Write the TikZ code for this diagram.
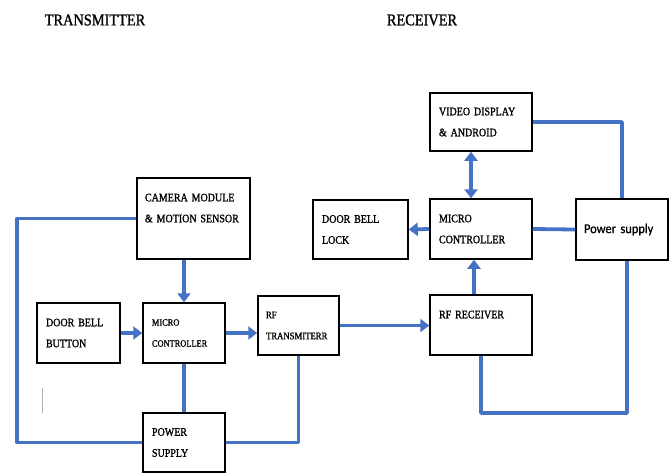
\documentclass[tikz,border=0pt]{standalone}
\usepackage{fontspec}
\usetikzlibrary{arrows.meta}
\setmainfont{Liberation Serif}
\newfontfamily\boxfont[FakeStretch=0.87,FakeBold=1.2]{Liberation Serif}
\newfontfamily\psfont[FakeStretch=0.92,FakeBold=0.8]{Carlito}
\definecolor{wireblue}{RGB}{68,114,196}

\begin{document}
\begin{tikzpicture}[x=1pt,y=-1pt,
  blk/.style={draw,line width=1.5pt,inner xsep=8pt,align=left,font=\boxfont\fontsize{11.5}{21}\selectfont},
  wire/.style={draw=wireblue,line width=3.8pt,line join=round},
  arr/.style={wire,-{Triangle[width=13pt,length=9pt]}},
  dblarr/.style={wire,{Triangle[width=13pt,length=9pt]}-{Triangle[width=13pt,length=9pt]}}]
 \useasboundingbox (0,0) rectangle (670,475);
 % titles
 \node (ttx) at (95,20) {\boxfont\fontsize{16.5}{18}\selectfont TRANSMITTER};
 \node (trx) at (422,20) {\boxfont\fontsize{16.5}{18}\selectfont RECEIVER};
 % transmitter side
 \node[blk,minimum width=113pt,minimum height=81pt,text width=97pt] (cam) at (193.5,218.5) {CAMERA MODULE\\\& MOTION SENSOR\\\mbox{}};
 \node[blk,minimum width=81pt,minimum height=60pt,text width=65pt,inner xsep=9pt] (bell) at (78.5,333) {DOOR BELL\\BUTTON};
 \node[blk,minimum width=82pt,minimum height=60pt,text width=64pt,inner xsep=9pt,font=\boxfont\fontsize{9.6}{21}\selectfont] (mctx) at (184,333) {MICRO\\CONTROLLER};
 \node[blk,minimum width=81pt,minimum height=59pt,text width=65pt,font=\boxfont\fontsize{10}{21}\selectfont] (rftx) at (298.5,325.5) {RF\\TRANSMITERR};
 \node[blk,minimum width=82pt,minimum height=59pt,text width=64pt,inner xsep=9pt] (pstx) at (184,442.5) {POWER\\SUPPLY};
 % receiver side
 \node[blk,minimum width=102pt,minimum height=58pt,text width=84pt,inner xsep=9pt] (vid) at (481,122) {VIDEO DISPLAY\\\& ANDROID};
 \node[blk,minimum width=102pt,minimum height=60pt,text width=84pt,inner xsep=9pt] (mcrx) at (481,229) {MICRO\\CONTROLLER};
 \node[blk,minimum width=95pt,minimum height=59pt,text width=77pt,inner xsep=9pt] (lock) at (360.5,229.5) {DOOR BELL\\LOCK};
 \node[blk,minimum width=92pt,minimum height=61pt,text width=76pt,font=\psfont\fontsize{13.5}{16}\selectfont] (psrx) at (622,229.5) {Power supply};
 \node[blk,minimum width=102pt,minimum height=60pt,text width=84pt,inner xsep=9pt] (rfrx) at (481,325) {RF RECEIVER\\\mbox{}};
 \coordinate (lb) at (17,0);
 \coordinate (rb) at (0,413);
 % transmitter wiring
 \draw[arr] (cam.south -| mctx.north) -- (mctx.north);
 \draw[arr] (bell.east) -- (mctx.west);
 \draw[arr] (mctx.east) -- (mctx.east -| rftx.west);
 \draw[wire] (mctx.south) -- (pstx.north);
 \draw[wire] (cam.west) -- (cam.west -| lb) |- (pstx.west);
 \draw[wire] (pstx.east) -| (rftx.south);
 % link
 \draw[arr] (rftx.east) -- (rftx.east -| rfrx.west);
 % receiver wiring
 \draw[arr] ([xshift=-7pt]rfrx.north) -- ([xshift=-7pt]mcrx.south);
 \draw[dblarr] ([xshift=-10pt]vid.south) -- ([xshift=-10pt]mcrx.north);
 \draw[arr] (mcrx.west) -- (lock.east);
 \draw[wire] (psrx.west) -- (mcrx.east);
 \draw[wire] (vid.east) -| (psrx.north);
 \draw[wire] (rfrx.south) -- (rfrx.south |- rb) -| ([xshift=5pt]psrx.south);
 \draw[gray!60,line width=1pt] (42,388) -- (42,413);
\end{tikzpicture}
\end{document}
